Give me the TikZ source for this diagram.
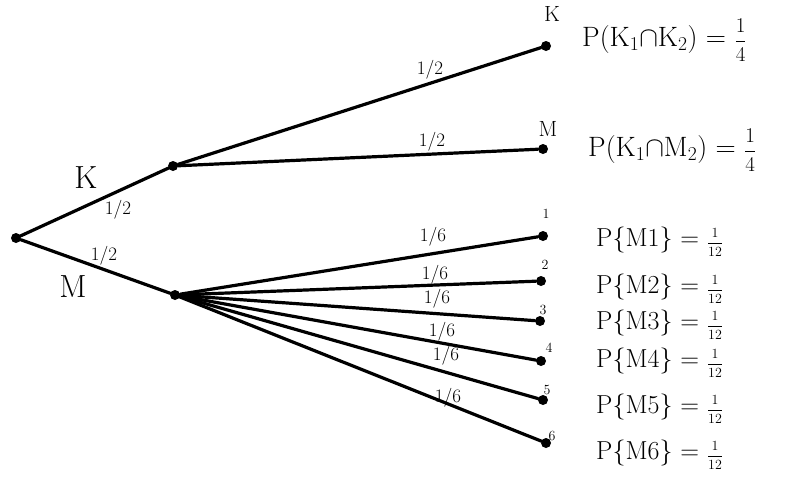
\RequirePackage{fix-cm}
\documentclass[tikz,border=0pt]{standalone}
\usepackage{amsmath}
\newcommand{\bigfr}[3]{{\fontsize{#1}{#1}\selectfont$\dfrac{#2}{#3}$}}
\begin{document}
\begin{tikzpicture}[x=1pt,y=-1pt,
  br/.style={line width=3.2pt,line cap=round},
  pt/.style={circle,fill=black,inner sep=0pt,minimum size=10pt},
  frac/.style={font=\fontsize{19}{20}\selectfont,inner sep=1pt},
  lbl/.style={font=\fontsize{32}{34}\selectfont,inner sep=1pt},
  lbls/.style={font=\fontsize{22}{24}\selectfont,inner sep=1pt},
  num/.style={font=\fontsize{14}{16}\selectfont,inner sep=1pt},
  res/.style={font=\fontsize{28}{30}\selectfont,inner sep=1pt,anchor=west},
  resm/.style={font=\fontsize{26}{28}\selectfont,inner sep=0pt,anchor=west}]
\useasboundingbox (0,0) rectangle (793,483);
\node[pt] (r) at (16,238) {};
\node[pt] (k) at (173,166) {};
\node[pt] (m) at (175,295) {};
\node[pt] (kk) at (546,46) {};
\node[pt] (km) at (543,149) {};
\node[pt] (m1) at (543,236) {};
\node[pt] (m2) at (541,281) {};
\node[pt] (m3) at (540,321) {};
\node[pt] (m4) at (541,361) {};
\node[pt] (m5) at (543,400) {};
\node[pt] (m6) at (546,443) {};
\draw[br] (r) -- (k);
\draw[br] (r) -- (m);
\draw[br] (k) -- (kk);
\draw[br] (k) -- (km);
\foreach \n in {m1,m2,m3,m4,m5,m6} \draw[br] (m) -- (\n);
% branch labels
\node[lbl] (lK) at (86,178) {K};
\node[frac] (f1) at (118,210) {1/2};
\node[frac] (f2) at (104,256) {1/2};
\node[lbl] (lM) at (73,287) {M};
\node[frac] (f3) at (430,70) {1/2};
\node[frac] (f4) at (432,142) {1/2};
\node[frac] (g1) at (433,237) {1/6};
\node[frac] (g2) at (435,275) {1/6};
\node[frac] (g3) at (437,299) {1/6};
\node[frac] (g4) at (442,332) {1/6};
\node[frac] (g5) at (446,356) {1/6};
\node[frac] (g6) at (448,398) {1/6};
% leaf labels
\node[lbls] (tK) at (552,14) {K};
\node[lbls] (tM) at (548,129) {M};
\node[num] (t1) at (546,214) {1};
\node[num] (t2) at (545,265) {2};
\node[num] (t3) at (543,310) {3};
\node[num] (t4) at (549,348) {4};
\node[num] (t5) at (547,390) {5};
\node[num] (t6) at (552,436) {6};
% results
\node[res] (p1) at (581,40) {P(K$_1\cap$K$_2$) = \bigfr{21}{1}{4}};
\node[res] (p2) at (587,150) {P(K$_1\cap$M$_2$) = \bigfr{21}{1}{4}};
\node[resm] (q1) at (596,242) {P$\{$M1$\}$ = \bigfr{14}{1}{12}};
\node[resm] (q2) at (596,289) {P$\{$M2$\}$ = \bigfr{14}{1}{12}};
\node[resm] (q3) at (596,325) {P$\{$M3$\}$ = \bigfr{14}{1}{12}};
\node[resm] (q4) at (596,363) {P$\{$M4$\}$ = \bigfr{14}{1}{12}};
\node[resm] (q5) at (596,409) {P$\{$M5$\}$ = \bigfr{14}{1}{12}};
\node[resm] (q6) at (596,455) {P$\{$M6$\}$ = \bigfr{14}{1}{12}};
\end{tikzpicture}
\end{document}
